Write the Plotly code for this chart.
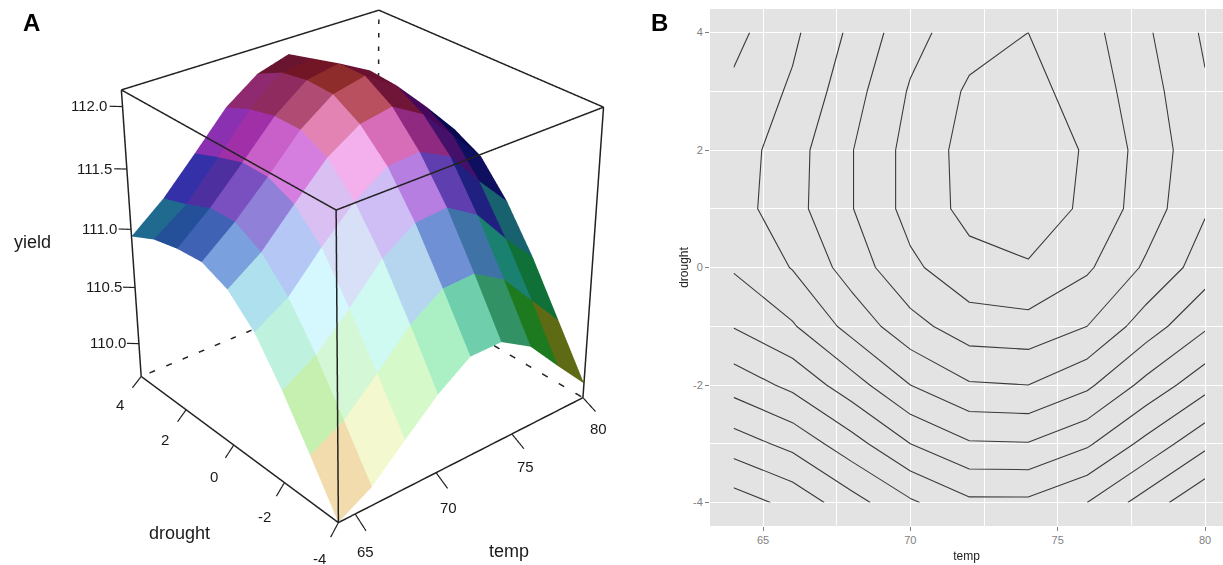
import math
import plotly.graph_objects as go

temp = [64, 66, 68, 70, 72, 74, 76, 78, 80]
drought = [-4, -3, -2, -1, 0, 1, 2, 3, 4]
yield_by_drought = [
    [109.70, 109.86, 110.12, 110.37, 110.56, 110.56, 110.40, 110.11, 109.83],
    [110.10, 110.26, 110.52, 110.80, 110.98, 110.99, 110.83, 110.54, 110.25],
    [110.48, 110.65, 110.91, 111.20, 111.38, 111.40, 111.24, 110.94, 110.67],
    [110.81, 110.98, 111.27, 111.53, 111.71, 111.73, 111.60, 111.30, 111.03],
    [111.02, 111.21, 111.49, 111.76, 111.93, 111.98, 111.83, 111.57, 111.30],
    [111.11, 111.33, 111.59, 111.87, 112.06, 112.12, 111.96, 111.70, 111.42],
    [111.09, 111.32, 111.59, 111.87, 112.07, 112.12, 111.98, 111.72, 111.46],
    [111.04, 111.23, 111.52, 111.82, 112.03, 112.06, 111.92, 111.68, 111.42],
    [110.94, 111.16, 111.44, 111.73, 111.92, 112.00, 111.87, 111.63, 111.37],
]
facet_colors = [
    ["#F2DCAE", "#F3F8CF", "#D6F9C9", "#ABF0C5", "#6FCFAC", "#339166", "#1E7A1E", "#5F6A14"],
    ["#C6F0B0", "#D4F7D6", "#CFFAF2", "#B6D6F0", "#6F90D4", "#3F73A8", "#1A8070", "#0F7038"],
    ["#BEF2DE", "#D5F8FF", "#D8E0F8", "#CFBEF5", "#B67EE0", "#5F3FAF", "#1F2080", "#17626E"],
    ["#AEE0EE", "#B5C8F5", "#D9BFF2", "#F3B0EC", "#D76CB8", "#902A80", "#45106A", "#0E0F5E"],
    ["#7AA0DE", "#9080D8", "#D57EDF", "#E283B4", "#B85060", "#701438", "#45085A", "#080850"],
    ["#3F62B5", "#7A50C0", "#C95FC8", "#B04C74", "#8E2C2C", "#6A1030", "#3A0A30", "#1A0A40"],
    ["#24509A", "#4D2FA0", "#A02FA8", "#8F2B5E", "#721525", "#5A0A1C", "#3A0520", "#200520"],
    ["#1F6A8E", "#3330A8", "#8A30B0", "#902A70", "#6A1530", "#500F20", "#300518", "#200518"],
]
temp_ticks = [65, 70, 75, 80]
drought_ticks = [-4, -2, 0, 2, 4]
yield_ticks = [110.0, 110.5, 111.0, 111.5, 112.0]
contour_levels = dict(start=109.8, end=112.0, size=0.2)

T0, T1 = temp[0], temp[-1]
D0, D1 = drought[0], drought[-1]
Z0, Z1 = 109.70, 112.13
INK = "#222222"
FONT = "Liberation Sans, Arial, sans-serif"

# The 3D scene needs a tall viewport for its fixed field of view to give the
# reference's weak perspective; the page shows the window-sized part of it.
W = 1223
HF = 1500
OFFSET = 501


def py(px):
    return 1 - (px + OFFSET) / HF


fig = go.Figure()

# ---- panel A: faceted surface
vx, vy, vz, fi, fj, fk, fc = [], [], [], [], [], [], []
n = len(temp)
for j, d in enumerate(drought):
    for i, t in enumerate(temp):
        vx.append(t); vy.append(d); vz.append(yield_by_drought[j][i])
for j in range(n - 1):
    for i in range(n - 1):
        a = j * n + i
        b = a + 1
        c = a + n
        e = c + 1
        fi += [a, a]; fj += [b, e]; fk += [e, c]
        fc += [facet_colors[j][i]] * 2
fig.add_trace(go.Mesh3d(
    x=vx, y=vy, z=vz, i=fi, j=fj, k=fk, facecolor=fc, flatshading=True,
    lighting=dict(ambient=1, diffuse=0, specular=0, roughness=1, fresnel=0),
    hoverinfo="skip", showscale=False))


def segs(pairs, dash="solid", width=3, color=INK):
    xs, ys, zs = [], [], []
    for p, q in pairs:
        xs += [p[0], q[0], None]; ys += [p[1], q[1], None]; zs += [p[2], q[2], None]
    fig.add_trace(go.Scatter3d(x=xs, y=ys, z=zs, mode="lines",
                               line=dict(color=color, width=width, dash=dash),
                               hoverinfo="skip", showlegend=False))


solid_edges = [
    ((T0, D0, Z0), (T1, D0, Z0)), ((T0, D0, Z0), (T0, D1, Z0)),
    ((T0, D0, Z1), (T1, D0, Z1)), ((T0, D0, Z1), (T0, D1, Z1)),
    ((T1, D1, Z1), (T1, D0, Z1)), ((T1, D1, Z1), (T0, D1, Z1)),
    ((T0, D0, Z0), (T0, D0, Z1)), ((T1, D0, Z0), (T1, D0, Z1)),
    ((T0, D1, Z0), (T0, D1, Z1)),
]
hidden_edges = [
    ((T1, D1, Z0), (T1, D0, Z0)), ((T1, D1, Z0), (T0, D1, Z0)),
    ((T1, D1, Z0), (T1, D1, Z1)),
]
segs(solid_edges)
segs(hidden_edges, dash="dash")
segs([((t, D0, Z0), (t - 0.43, D0 - 0.64, Z0)) for t in temp_ticks], width=2.4)
segs([((T0, d, Z0), (T0 - 0.94, d - 0.30, Z0)) for d in drought_ticks], width=2.4)
segs([((T0, D1, z), (T0 - 0.45, D1 + 0.21, z)) for z in yield_ticks], width=2.4)


def label(x, y, z, s, size=15):
    return dict(x=x, y=y, z=z, text=s, showarrow=False,
                font=dict(family=FONT, size=size, color="#1a1a1a"))


notes = []
notes += [label(t - 1.4, D0 - 1.2, Z0, str(t)) for t in temp_ticks]
notes += [label(T0 - 2.28, d - 0.74, Z0, str(d)) for d in drought_ticks]
notes += [label(T0 - 1.15, D1 + 0.55, z, f"{z:.1f}") for z in yield_ticks]
notes.append(label(T0 + 4.52, D0 - 3.24, Z0, "temp", 18))
notes.append(label(T0 - 6.0, D0 + 2.0, Z0, "drought", 18))
notes.append(label(T0 - 3.98, D1 + 1.365, 110.93, "yield", 18))

# ---- panel B: contour lines
fig.add_trace(go.Contour(
    x=temp, y=drought, z=yield_by_drought, autocontour=False, contours=dict(
        coloring="lines", showlabels=False, **contour_levels),
    colorscale=[[0, "#3a3a3a"], [1, "#3a3a3a"]], showscale=False,
    line=dict(width=1.1, smoothing=0), hoverinfo="skip",
    xaxis="x", yaxis="y"))

AZ = math.radians(230)
EL = math.radians(28.8)
R = 6.45
blank = dict(visible=False, showspikes=False)
tc = (T0 + T1) / 2
dc = (D0 + D1) / 2
zc = (Z0 + Z1) / 2
TP, DP, ZP = 16, 8, 1.5
AX = 2.3314
fig.update_layout(
    width=W, height=HF, margin=dict(l=0, r=0, t=0, b=0),
    paper_bgcolor="white", plot_bgcolor="#E3E3E3", showlegend=False, hovermode=False,
    scene=dict(
        domain=dict(x=[0, 720 / W], y=[0, 1]),
        xaxis=dict(range=[tc - TP, tc + TP], **blank),
        yaxis=dict(range=[dc - DP, dc + DP], **blank),
        zaxis=dict(range=[zc - ZP, zc + ZP], **blank),
        aspectmode="manual", aspectratio=dict(x=AX, y=AX, z=1.445),
        camera=dict(
            projection=dict(type="perspective"),
            up=dict(x=0, y=0, z=1), center=dict(x=0, y=0, z=0),
            eye=dict(x=R * math.cos(EL) * math.cos(AZ),
                     y=R * math.cos(EL) * math.sin(AZ),
                     z=R * math.sin(EL))),
        annotations=notes, bgcolor="rgba(0,0,0,0)"),
    xaxis=dict(domain=[710 / W, 1], range=[63.2, 80.61],
               tickvals=temp_ticks, ticktext=[str(t) for t in temp_ticks],
               showgrid=True, gridcolor="white", gridwidth=1.2, zeroline=False,
               ticks="outside", ticklen=4, tickcolor="#7F7F7F", tickwidth=1,
               tickfont=dict(family=FONT, size=11, color="#7F7F7F"),
               minor=dict(tick0=65, dtick=2.5, showgrid=True, gridcolor="white", gridwidth=0.6),
               title=dict(text="temp", font=dict(family=FONT, size=12, color="#222222"), standoff=6)),
    yaxis=dict(domain=[py(526), py(9)], range=[-4.4, 4.4],
               tickvals=drought_ticks, ticktext=[str(d) for d in drought_ticks],
               showgrid=True, gridcolor="white", gridwidth=1.2, zeroline=False,
               ticks="outside", ticklen=4, tickcolor="#7F7F7F", tickwidth=1,
               tickfont=dict(family=FONT, size=11, color="#7F7F7F"),
               minor=dict(tick0=-4, dtick=1, showgrid=True, gridcolor="white", gridwidth=0.6),
               title=dict(text="drought", font=dict(family=FONT, size=12, color="#222222"), standoff=1)),
    annotations=[
        dict(text="<b>A</b>", x=31 / W, y=py(23), xref="paper", yref="paper",
             xanchor="center", yanchor="middle",
             showarrow=False, font=dict(family=FONT, size=24, color="black")),
        dict(text="<b>B</b>", x=659 / W, y=py(22), xref="paper", yref="paper",
             xanchor="center", yanchor="middle",
             showarrow=False, font=dict(family=FONT, size=24, color="black")),
    ],
)

fig.write_html(
    "out.html", config=dict(displayModeBar=False),
    post_script=(
        "document.documentElement.style.overflow='hidden';"
        "document.body.style.margin='0';document.body.style.overflow='hidden';"
        f"document.getElementsByClassName('plotly-graph-div')[0].style.marginTop='-{OFFSET}px';"
    ))
